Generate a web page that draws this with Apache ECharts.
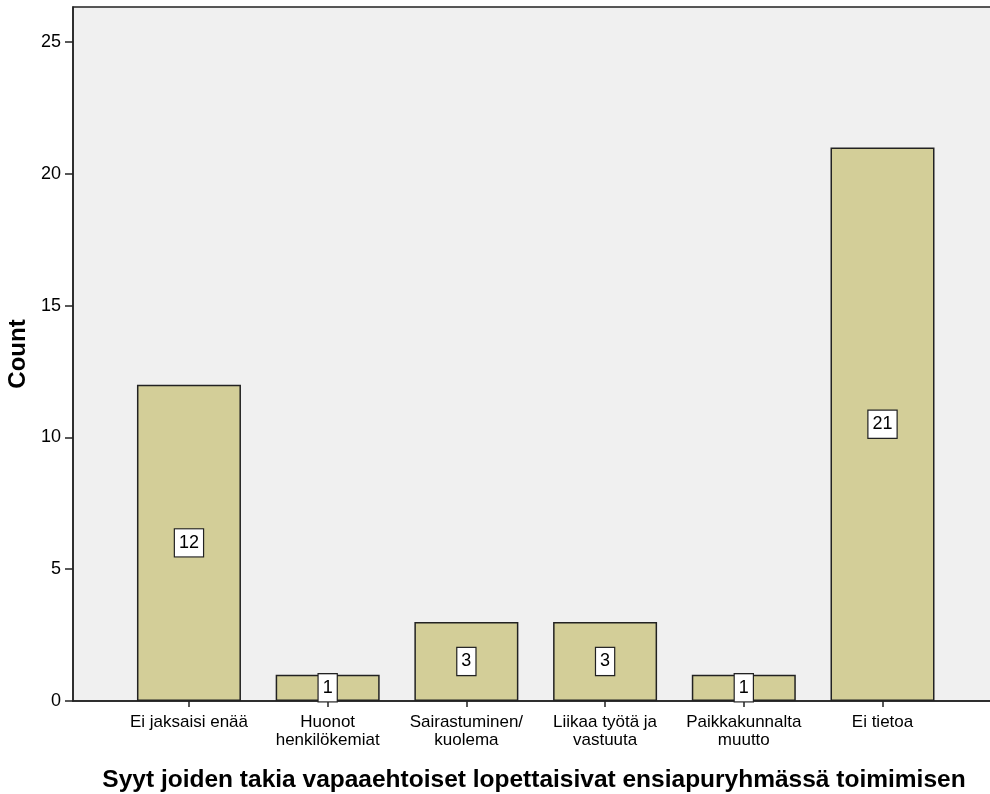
<!DOCTYPE html>
<html>
<head>
<meta charset="utf-8">
<script src="https://cdn.jsdelivr.net/npm/echarts@6/dist/echarts.min.js"></script>
<style>
html,body{margin:0;padding:0;background:#fff;}
#c{width:990px;height:794px;}
</style>
</head>
<body>
<div id="c"></div>
<script>
var categories = ['Ei jaksaisi enää', 'Huonot\nhenkilökemiat', 'Sairastuminen/\nkuolema', 'Liikaa työtä ja\nvastuuta', 'Paikkakunnalta\nmuutto', 'Ei tietoa'];
var counts = [12, 1, 3, 3, 1, 21];
var yTicks = [0, 5, 10, 15, 20, 25];
var xTitle = 'Syyt joiden takia vapaaehtoiset lopettaisivat ensiapuryhmässä toimimisen';
var yTitle = 'Count';

var idx = categories.map(function (c, i) { return i; });
var chart = echarts.init(document.getElementById('c'), null, {renderer: 'canvas'});
var font = 'Liberation Sans, Arial, sans-serif';
chart.setOption({
  animation: false,
  backgroundColor: '#ffffff',
  grid: {
    left: 73, top: 7, right: -5, bottom: 93,
    containLabel: false, outerBoundsMode: 'none',
    show: true, backgroundColor: '#f0f0f0', borderColor: '#222', borderWidth: 1.5
  },
  xAxis: {
    type: 'value',
    min: -0.836, max: 5.811,
    name: xTitle,
    nameLocation: 'middle',
    nameGap: 67,
    nameTextStyle: {fontFamily: font, fontSize: 24.5, fontWeight: 'bold', color: '#000'},
    axisLine: {show: true, onZero: false, lineStyle: {color: '#222', width: 1.5}},
    axisTick: {show: true, length: 6, customValues: idx, lineStyle: {color: '#222', width: 1.5}},
    splitLine: {show: false},
    axisLabel: {
      customValues: idx,
      fontFamily: font, fontSize: 17, color: '#000', lineHeight: 18, margin: 12,
      formatter: function (v) { return categories[Math.round(v)]; }
    }
  },
  yAxis: {
    type: 'value',
    min: 0, max: 26.33, interval: 5,
    name: yTitle,
    nameLocation: 'middle',
    nameGap: 40,
    nameRotate: 90,
    nameTextStyle: {fontFamily: font, fontSize: 24, fontWeight: 'bold', color: '#000'},
    axisLine: {show: true, onZero: false, lineStyle: {color: '#222', width: 1.5}},
    axisTick: {show: true, length: 8, customValues: yTicks, lineStyle: {color: '#222', width: 1.5}},
    splitLine: {show: false},
    axisLabel: {
      customValues: yTicks,
      fontFamily: font, fontSize: 18, color: '#000', margin: 12
    }
  },
  series: [{
    type: 'bar',
    barWidth: 104,
    data: counts.map(function (v, i) { return [i, v]; }),
    itemStyle: {color: '#d3ce98', borderColor: '#222', borderWidth: 1.5},
    label: {
      show: true, position: 'inside',
      fontFamily: font, fontSize: 18, lineHeight: 18, color: '#000',
      backgroundColor: '#fff', borderColor: '#222', borderWidth: 1.2,
      padding: [5, 4, 4, 4],
      formatter: function (p) { return p.value[1]; }
    }
  }]
});
</script>
</body>
</html>
